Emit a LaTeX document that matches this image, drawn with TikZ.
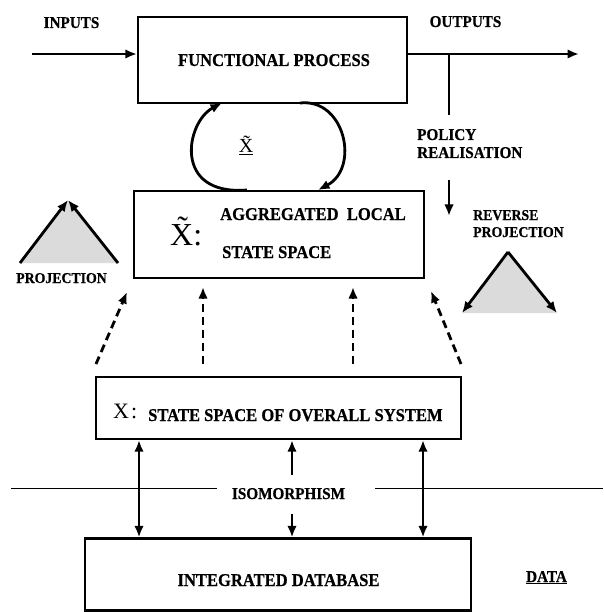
\documentclass[tikz,border=0pt]{standalone}
\usepackage{fontspec}
\setmainfont{Liberation Serif}
\newfontfamily\lb[FakeStretch=0.92,FakeBold=0.6]{Liberation Serif}
\usetikzlibrary{arrows.meta}
\begin{document}
\begin{tikzpicture}[x=1pt,y=-1pt,
  box/.style={draw, line width=2.2pt, inner sep=0pt},
  lbl/.style={font=\lb\bfseries\fontsize{#1}{#1}\selectfont, inner sep=0pt},
  lbl/.default=18,
  sym/.style={font=\fontsize{#1}{#1}\selectfont, inner sep=0pt},
  head/.tip={Latex[length=11.5pt,width=9.5pt]},
  arr/.style={-head, line width=2.8pt},
  darr/.style={head-head, line width=2.8pt},
  dsh/.style={-head, line width=2.8pt, dash pattern=on 8pt off 5pt},
  thin/.style={line width=1pt},
  shade/.style={fill=gray!28}]
\useasboundingbox (0,0) rectangle (603,612);

% ---- boxes ----
\node[box, minimum width=269pt, minimum height=86pt] (fp)  at (272.5,60)  {};
\node[box, minimum width=290pt, minimum height=87pt] (agg) at (279,234.5) {};
\node[box, minimum width=365pt, minimum height=62pt] (ss)  at (278.5,408) {};
\node[box, minimum width=386pt, minimum height=72pt] (db)  at (278,574.5) {};

% ---- texts ----
\node[lbl=16.5, anchor=base] (tin)  at (71.5,28) {INPUTS};
\node[lbl=16.5, anchor=base] (tout) at (465.5,27) {OUTPUTS};
\node[lbl=18, anchor=base] (tfp) at (274,66) {FUNCTIONAL PROCESS};
\node[sym=20, anchor=base] (tloop) at (246,153) {\underline{\~{X}}};
\node[lbl=16.5, anchor=base west] (tpol)  at (417,140) {POLICY};
\node[lbl=16.5, anchor=base west] (treal) at (417,158) {REALISATION};

\node[sym=32, anchor=base west] (txa) at (170,245) {\~{X}:};
\node[lbl=18, anchor=base west] (tagg1) at (220,220) {AGGREGATED\ \ LOCAL};
\node[lbl=18, anchor=base west] (tagg2) at (222,258) {STATE SPACE};

\node[lbl=15, anchor=base] (tproj) at (61.5,283) {PROJECTION};
\node[lbl=15, anchor=base west] (trev1) at (473,220) {REVERSE};
\node[lbl=15, anchor=base west] (trev2) at (473,237) {PROJECTION};

\node[sym=22, anchor=base west] (txs) at (113,418) {X\kern2pt:};
\node[lbl=18, anchor=base west] (tss) at (148,421) {STATE SPACE OF OVERALL SYSTEM};

\node[lbl=16.5, anchor=base] (tiso) at (288.5,499) {ISOMORPHISM};
\node[lbl=18, anchor=base] (tdb) at (278.5,586) {INTEGRATED DATABASE};
\node[lbl=16.5, anchor=base] (tdata) at (546.5,582) {\underline{DATA}};

% ---- inputs / outputs ----
\coordinate (in)  at (32,54);
\coordinate (out) at (579,54);
\draw[arr] (in) -- (fp.west |- in);
\draw[arr] (fp.east |- out) -- (out);

% ---- policy realisation ----
\coordinate (p0) at (449,54);
\coordinate (p1) at (449,115);
\coordinate (p2) at (449,180);
\coordinate (p3) at (449,216);
\draw[line width=2.8pt] (p0) -- (p1);
\draw[arr] (p2) -- (p3);

% ---- feedback loop ----
\coordinate (la) at (247,190);
\coordinate (lb) at (222,103);
\coordinate (ra) at (300,103);
\coordinate (rb) at (318,190);
\draw[arr] (la) .. controls (172,196) and (186,122) .. (lb);
\draw[arr] (ra) .. controls (345,98) and (360,168) .. (rb);

% ---- projection triangles ----
\coordinate (pa) at (68,200);
\coordinate (pl) at (20,263);
\coordinate (pr) at (118,263);
\fill[shade] (pl) -- (pa) -- (pr) -- cycle;
\draw[arr] (pl) -- (pa);
\draw[arr] (pr) -- (pa);

\coordinate (ra0) at (508,252);
\coordinate (rl) at (462,313);
\coordinate (rr) at (557,313);
\fill[shade] (rl) -- (ra0) -- (rr) -- cycle;
\draw[arr] (ra0) -- (rl);
\draw[arr] (ra0) -- (rr);

% ---- dashed projections ----
\coordinate (d1a) at (96,364);  \coordinate (d1b) at (127,292);
\coordinate (d2a) at (203,364); \coordinate (d2b) at (203,287);
\coordinate (d3a) at (353,364); \coordinate (d3b) at (353,287);
\coordinate (d4a) at (461,364); \coordinate (d4b) at (431,291);
\draw[dsh] (d1a) -- (d1b);
\draw[dsh] (d2a) -- (d2b);
\draw[dsh] (d3a) -- (d3b);
\draw[dsh] (d4a) -- (d4b);

% ---- isomorphism ----
\coordinate (c1) at (139,0);
\coordinate (c2) at (292,0);
\coordinate (c3) at (423,0);
\coordinate (m1) at (292,475);
\coordinate (m2) at (292,514);
\draw[darr] (ss.south -| c1) -- (db.north -| c1);
\draw[darr] (ss.south -| c3) -- (db.north -| c3);
\draw[arr] (m1) -- (ss.south -| c2);
\draw[arr] (m2) -- (db.north -| c2);

\coordinate (h0) at (11,488);
\coordinate (h1) at (217,488);
\coordinate (h2) at (375,488);
\coordinate (h3) at (603,488);
\draw[thin] (h0) -- (h1);
\draw[thin] (h2) -- (h3);
\end{tikzpicture}
\end{document}
